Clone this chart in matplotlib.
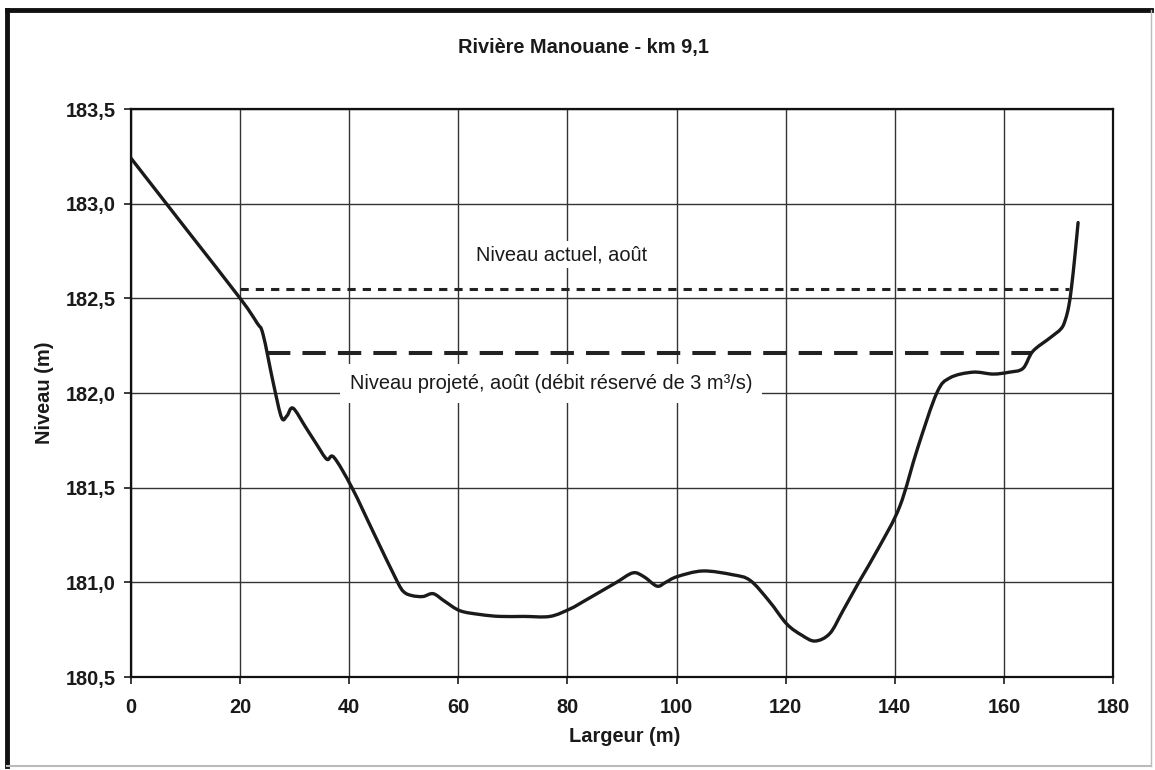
import matplotlib
matplotlib.use("Agg")
import matplotlib.pyplot as plt
import numpy as np
from matplotlib.ticker import FuncFormatter, MultipleLocator
from matplotlib.lines import Line2D
from matplotlib.path import Path
from matplotlib.patches import PathPatch

plt.rcParams["font.family"] = ["Liberation Sans", "DejaVu Sans"]

# profil en travers, Rivière Manouane km 9,1
largeur = [0, 10, 20, 23.1, 24.2, 26.1, 27.6, 28.6, 29.7, 32, 34.0, 35.9, 37.2,
           40.5, 44.5, 48.7, 50, 51.5, 53.5, 55.4, 57.5, 60.3, 64, 67.6, 72,
           76.8, 80.5, 83, 86.0, 89, 92.0, 94, 96.4, 98, 100.1, 104.8, 110.3,
           113.5, 117, 120.2, 123, 125.4, 128.1, 130.5, 133.6, 137, 140.9,
           144.2, 147.7, 150.1, 154.3, 158.0, 161, 163.5, 165.3, 168.4, 170.5,
           171.3, 171.9, 172.4, 173.0, 173.6]
niveau = [183.24, 182.87, 182.50, 182.37, 182.31, 182.05, 181.87, 181.88,
          181.92, 181.82, 181.73, 181.65, 181.66, 181.50, 181.26, 181.01,
          180.95, 180.93, 180.925, 180.94, 180.90, 180.85, 180.83, 180.82,
          180.82, 180.82, 180.86, 180.90, 180.95, 181.00, 181.05, 181.03,
          180.98, 181.00, 181.03, 181.06, 181.04, 181.01, 180.90, 180.78,
          180.72, 180.69, 180.73, 180.85, 181.01, 181.18, 181.40, 181.71,
          182.00, 182.08, 182.11, 182.10, 182.11, 182.13, 182.22, 182.29,
          182.34, 182.39, 182.46, 182.56, 182.72, 182.90]

# niveaux d'eau
actuel_x = [20, 172]
actuel_y = [182.55, 182.55]
projete_x = [25, 165]
projete_y = [182.21, 182.21]

titre = "Rivière Manouane - km 9,1"
label_actuel = "Niveau actuel, août"
label_projete = "Niveau projeté, août (débit réservé de 3 m³/s)"

FS = 14.4


def courbe_lissee(x, y, tension=1 / 6):
    # ligne lissée façon tableur : segments de Bézier passant par chaque point
    x = np.asarray(x, float)
    y = np.asarray(y, float)
    verts = [(x[0], y[0])]
    codes = [Path.MOVETO]
    n = len(x)
    for i in range(n - 1):
        i0 = max(i - 1, 0)
        i3 = min(i + 2, n - 1)
        c1 = (x[i] + (x[i + 1] - x[i0]) * tension, y[i] + (y[i + 1] - y[i0]) * tension)
        c2 = (x[i + 1] - (x[i3] - x[i]) * tension, y[i + 1] - (y[i3] - y[i]) * tension)
        verts += [c1, c2, (x[i + 1], y[i + 1])]
        codes += [Path.CURVE4] * 3
    return Path(verts, codes)


fig = plt.figure(figsize=(11.55, 7.7), dpi=100)
ax = fig.add_axes([131 / 1155, 1 - 677 / 770, 982 / 1155, 568 / 770])

profil = PathPatch(courbe_lissee(largeur, niveau), facecolor="none",
                   edgecolor="#1a1a1a", lw=2.4, capstyle="round",
                   joinstyle="round", zorder=4)
ax.add_patch(profil)
ax.plot(actuel_x, actuel_y, color="#222222", lw=2.2,
        linestyle=(0, (2.7, 2.3)), zorder=3)
ax.plot(projete_x, projete_y, color="#222222", lw=2.9,
        linestyle=(0, (5.8, 3.0)), zorder=3)

ax.text(79, 182.73, label_actuel, ha="center", va="center", fontsize=FS,
        color="#1a1a1a", zorder=5,
        bbox=dict(facecolor="white", edgecolor="none", pad=3))
ax.text(77, 182.05, label_projete, ha="center", va="center", fontsize=FS,
        color="#1a1a1a", zorder=5,
        bbox=dict(facecolor="white", edgecolor="none", pad=7))

ax.set_xlim(0, 180)
ax.set_ylim(180.5, 183.5)
ax.xaxis.set_major_locator(MultipleLocator(20))
ax.yaxis.set_major_locator(MultipleLocator(0.5))
ax.yaxis.set_major_formatter(FuncFormatter(lambda v, p: f"{v:.1f}".replace(".", ",")))

ax.grid(True, color="#333333", lw=1.0)
ax.set_axisbelow(True)
for s in ax.spines.values():
    s.set_linewidth(1.6)
    s.set_color("#111111")
ax.tick_params(direction="out", length=5, width=1.2, labelsize=FS,
               colors="#1a1a1a")
ax.tick_params(axis="x", pad=10)
ax.tick_params(axis="y", pad=6)
for lab in ax.get_xticklabels() + ax.get_yticklabels():
    lab.set_fontweight("bold")

fig.text(583 / 1155, 1 - 47 / 770, titre, ha="center", va="center",
         fontsize=FS, fontweight="bold", color="#1a1a1a")
fig.text(625 / 1155, 1 - 737 / 770, "Largeur (m)", ha="center", va="center",
         fontsize=FS, fontweight="bold", color="#1a1a1a")
fig.text(45 / 1155, 1 - 393 / 770, "Niveau (m)", ha="center", va="center",
         rotation=90, fontsize=FS, fontweight="bold", color="#1a1a1a")

# cadre autour du graphique
fig.add_artist(Line2D([7 / 1155, 7 / 1155], [1 - 10 / 770, 1 - 766 / 770],
                      transform=fig.transFigure, color="#111111", lw=3.5))
fig.add_artist(Line2D([7 / 1155, 1151 / 1155], [1 - 10 / 770, 1 - 10 / 770],
                      transform=fig.transFigure, color="#111111", lw=3.5))
fig.add_artist(Line2D([1151 / 1155, 1151 / 1155], [1 - 10 / 770, 1 - 766 / 770],
                      transform=fig.transFigure, color="#bbbbbb", lw=1.0))
fig.add_artist(Line2D([7 / 1155, 1151 / 1155], [1 - 766 / 770, 1 - 766 / 770],
                      transform=fig.transFigure, color="#bbbbbb", lw=1.5))

fig.savefig("out.png", dpi=100)
